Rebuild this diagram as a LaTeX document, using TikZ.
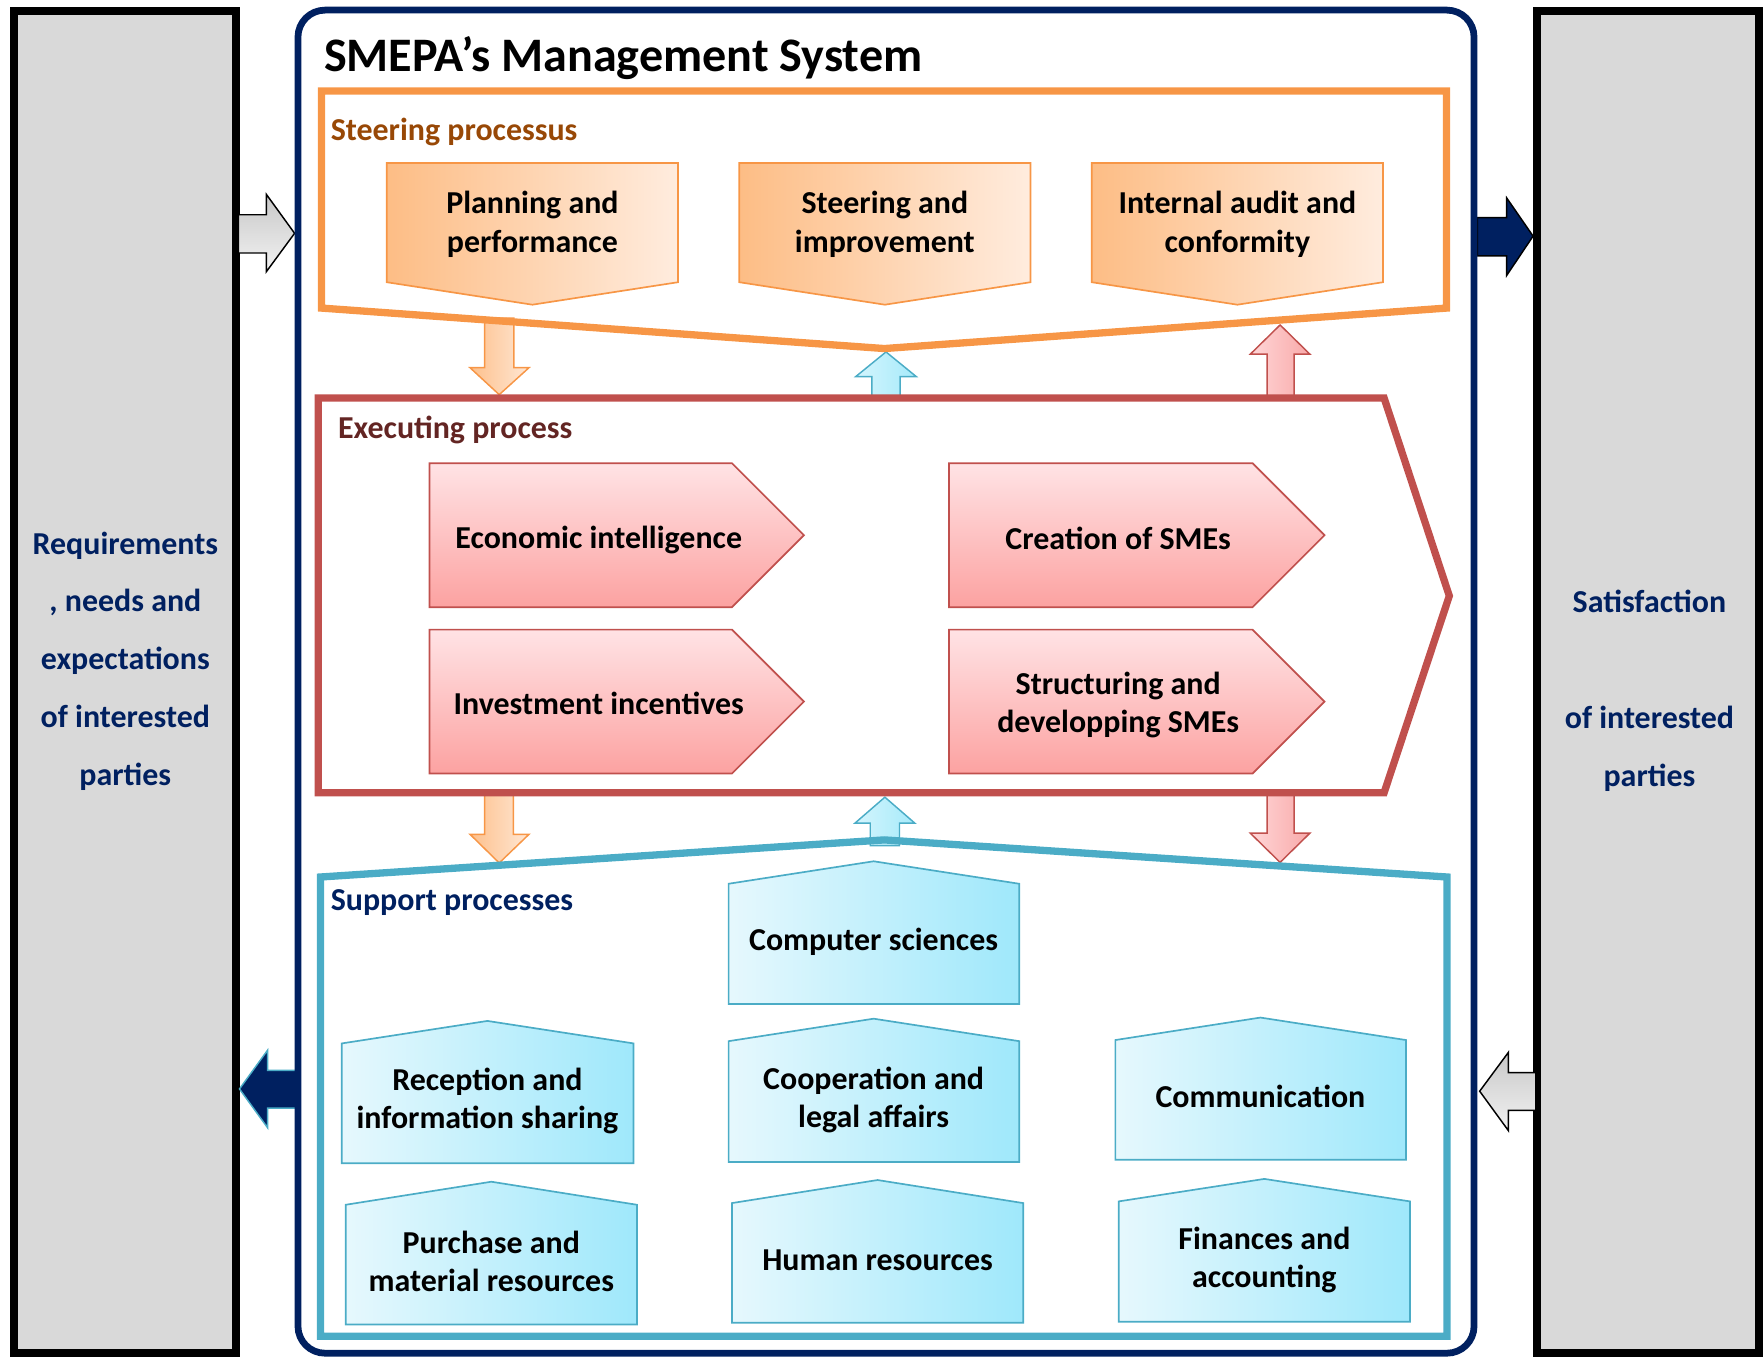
\documentclass[tikz,border=0pt]{standalone}
\usepackage{fontspec}
\setmainfont{Carlito}
\definecolor{navy}{HTML}{002060}
\definecolor{orng}{HTML}{F79646}
\definecolor{redd}{HTML}{C0504D}
\definecolor{tealb}{HTML}{4BACC6}
\definecolor{brwn}{HTML}{984806}
\definecolor{dred}{HTML}{632523}
\definecolor{panelgray}{HTML}{D9D9D9}
\definecolor{steerL}{HTML}{FDBD85}
\definecolor{steerR}{HTML}{FFECDE}
\definecolor{execT}{HTML}{FFE3E5}
\definecolor{execB}{HTML}{FCA2A1}
\definecolor{suppL}{HTML}{E6F8FD}
\definecolor{suppR}{HTML}{9FE8FB}
\definecolor{arrOL}{HTML}{FDC08C}
\definecolor{arrOR}{HTML}{FFE7D4}
\definecolor{arrBL}{HTML}{D4F5FD}
\definecolor{arrBR}{HTML}{A6EAFA}
\definecolor{arrPL}{HTML}{FFD6D7}
\definecolor{arrPR}{HTML}{F8A9A9}
\definecolor{grayT}{HTML}{C8C8C8}
\definecolor{grayB}{HTML}{F2F2F2}
\begin{document}
\begin{tikzpicture}[x=1pt,y=-1pt,line join=miter,
  txt/.style={font=\bfseries\fontsize{28.4}{34}\selectfont,align=center,inner sep=0pt},
  lbl/.style={font=\bfseries\fontsize{28.4}{34}\selectfont,anchor=base west,inner sep=0pt},
  sidetxt/.style={font=\bfseries\fontsize{28.4}{51.5}\selectfont,align=center,inner sep=0pt,text=navy},
  steerbox/.style={draw=orng,line width=1.5pt,left color=steerL,right color=steerR},
  execbox/.style={draw=redd,line width=1.5pt,top color=execT,bottom color=execB},
  suppbox/.style={draw=tealb,line width=1.5pt,left color=suppL,right color=suppR},
  panel/.style={draw=black,line width=7pt,fill=panelgray},
  grayarrow/.style={draw=black,line width=1.3pt,top color=grayT,bottom color=grayB},
  orngarrow/.style={draw=orng,line width=1.3pt,left color=arrOL,right color=arrOR},
  bluearrow/.style={draw=tealb,line width=1.3pt,left color=arrBL,right color=arrBR},
  pinkarrow/.style={draw=redd,line width=1.3pt,left color=arrPL,right color=arrPR},
  frame/.style={line width=6.5pt},
]
\useasboundingbox (0,0) rectangle (1568,1207);

% side panels
\path[panel] (12.5,9.5) rectangle (210,1203.5);
\path[panel] (1367,9.5) rectangle (1564.5,1203.5);

% side arrows
\path[grayarrow] (212,191) -- (237,191) -- (237,173) -- (262,207.5) -- (237,241.5) -- (237,225) -- (212,225) -- cycle;
\path[draw=black,line width=1.3pt,fill=navy] (1314,193.5) -- (1340,193.5) -- (1340,176) -- (1363.5,210) -- (1340,245) -- (1340,227.5) -- (1314,227.5) -- cycle;
\path[draw=tealb,line width=1.3pt,fill=navy] (264,952) -- (238,952) -- (238,934) -- (213,968.5) -- (238,1003) -- (238,985.5) -- (264,985.5) -- cycle;
\path[grayarrow] (1366,954) -- (1341.5,954) -- (1341.5,936) -- (1316,970.5) -- (1341.5,1005.5) -- (1341.5,987.5) -- (1366,987.5) -- cycle;

% main system frame
\draw[navy,line width=6pt,rounded corners=24pt] (265,9) rectangle (1311,1203.5);
\node[anchor=base west,inner sep=0pt,font=\bfseries\fontsize{42.8}{48}\selectfont] (title) at (288,64) {SMEPA’s Management System};

% arrows between process groups
\path[orngarrow] (431,283) -- (457,283) -- (457,327) -- (470.5,327) -- (444,351) -- (418,327) -- (431,327) -- cycle;
\path[bluearrow] (775.5,354) -- (775.5,335) -- (761,335) -- (788,313) -- (815,335) -- (800.5,335) -- (800.5,354) -- cycle;
\path[pinkarrow] (1127,354) -- (1127,315) -- (1112,315) -- (1138.5,289) -- (1165,315) -- (1151,315) -- (1151,354) -- cycle;
\path[orngarrow] (431,705) -- (456.5,705) -- (456.5,742) -- (470.5,742) -- (444,767.5) -- (418,742) -- (431,742) -- cycle;
\path[bluearrow] (774,752) -- (774,732) -- (760.5,732) -- (787,709) -- (813.5,732) -- (800,732) -- (800,752) -- cycle;
\path[pinkarrow] (1127,705) -- (1151,705) -- (1151,741) -- (1165,741) -- (1138.5,767) -- (1112,741) -- (1127,741) -- cycle;

% process group frames
\draw[orng,frame] (286,81) -- (1286.5,81) -- (1286.5,274) -- (786.5,310) -- (286,274) -- cycle;
\draw[redd,frame] (283,354) -- (1231,354) -- (1289,530) -- (1231,705) -- (283,705) -- cycle;
\draw[tealb,frame] (285,780) -- (786.5,747) -- (1287,780) -- (1287,1188.5) -- (285,1188.5) -- cycle;

\node[lbl,text=brwn] (steerlbl) at (294,125) {Steering processus};
\node[lbl,text=dred] (execlbl) at (300.5,390) {Executing process};
\node[lbl,text=navy] (supplbl) at (294,810) {Support processes};

% steering processes
\path[steerbox] (344,145) -- (603,145) -- (603,251) -- (473.5,271) -- (344,251) -- cycle;
\path[steerbox] (657.5,145) -- (916.5,145) -- (916.5,251) -- (787,271) -- (657.5,251) -- cycle;
\path[steerbox] (971,145) -- (1230,145) -- (1230,251) -- (1100.5,271) -- (971,251) -- cycle;
\node[txt] (plan) at (473.5,199.5) {Planning and\\performance};
\node[txt] (steer) at (787,199.5) {Steering and\\improvement};
\node[txt] (audit) at (1100.5,199.5) {Internal audit and\\conformity};

% executing processes
\path[execbox] (382,412) -- (651,412) -- (715,476) -- (651,540) -- (382,540) -- cycle;
\path[execbox] (382,560) -- (651,560) -- (715,624) -- (651,688) -- (382,688) -- cycle;
\path[execbox] (844,412) -- (1114,412) -- (1178,476) -- (1114,540) -- (844,540) -- cycle;
\path[execbox] (844,560) -- (1114,560) -- (1178,624) -- (1114,688) -- (844,688) -- cycle;
\node[txt] (econ) at (532.5,480.5) {Economic intelligence};
\node[txt] (invest) at (532.5,625.5) {Investment incentives};
\node[txt] (create) at (994.5,478.5) {Creation of SMEs};
\node[txt] (struct) at (994.5,627) {Structuring and\\developping SMEs};

% support processes
\path[suppbox] (648,786) -- (777,766) -- (906.5,786) -- (906.5,893) -- (648,893) -- cycle;
\path[suppbox] (304,928) -- (433.5,908) -- (563.5,928) -- (563.5,1034.5) -- (304,1034.5) -- cycle;
\path[suppbox] (648,926) -- (777,906) -- (906.5,926) -- (906.5,1033.5) -- (648,1033.5) -- cycle;
\path[suppbox] (992,925) -- (1121,905) -- (1250.5,925) -- (1250.5,1031.5) -- (992,1031.5) -- cycle;
\path[suppbox] (307.5,1071.5) -- (437,1051) -- (566.5,1071.5) -- (566.5,1178) -- (307.5,1178) -- cycle;
\path[suppbox] (651,1070) -- (780.5,1049.5) -- (910,1070) -- (910,1176.5) -- (651,1176.5) -- cycle;
\path[suppbox] (995,1068.5) -- (1124.5,1048.5) -- (1254,1068.5) -- (1254,1175.5) -- (995,1175.5) -- cycle;
\node[txt] (comp) at (777,837.5) {Computer sciences};
\node[txt] (recep) at (433.5,979.5) {Reception and\\information sharing};
\node[txt] (coop) at (777,978.5) {Cooperation and\\legal affairs};
\node[txt] (comm) at (1121,975) {Communication};
\node[txt] (purch) at (437,1122) {Purchase and\\material resources};
\node[txt] (human) at (780.5,1120.5) {Human resources};
\node[txt] (fin) at (1124.5,1120.5) {Finances and\\accounting};

% side texts
\node[sidetxt] (req) at (111.5,588) {Requirements\\, needs and\\expectations\\of interested\\parties};
\node[sidetxt] (sat) at (1467,614.5) {Satisfaction\\\mbox{}\\of interested\\parties};
\end{tikzpicture}
\end{document}
